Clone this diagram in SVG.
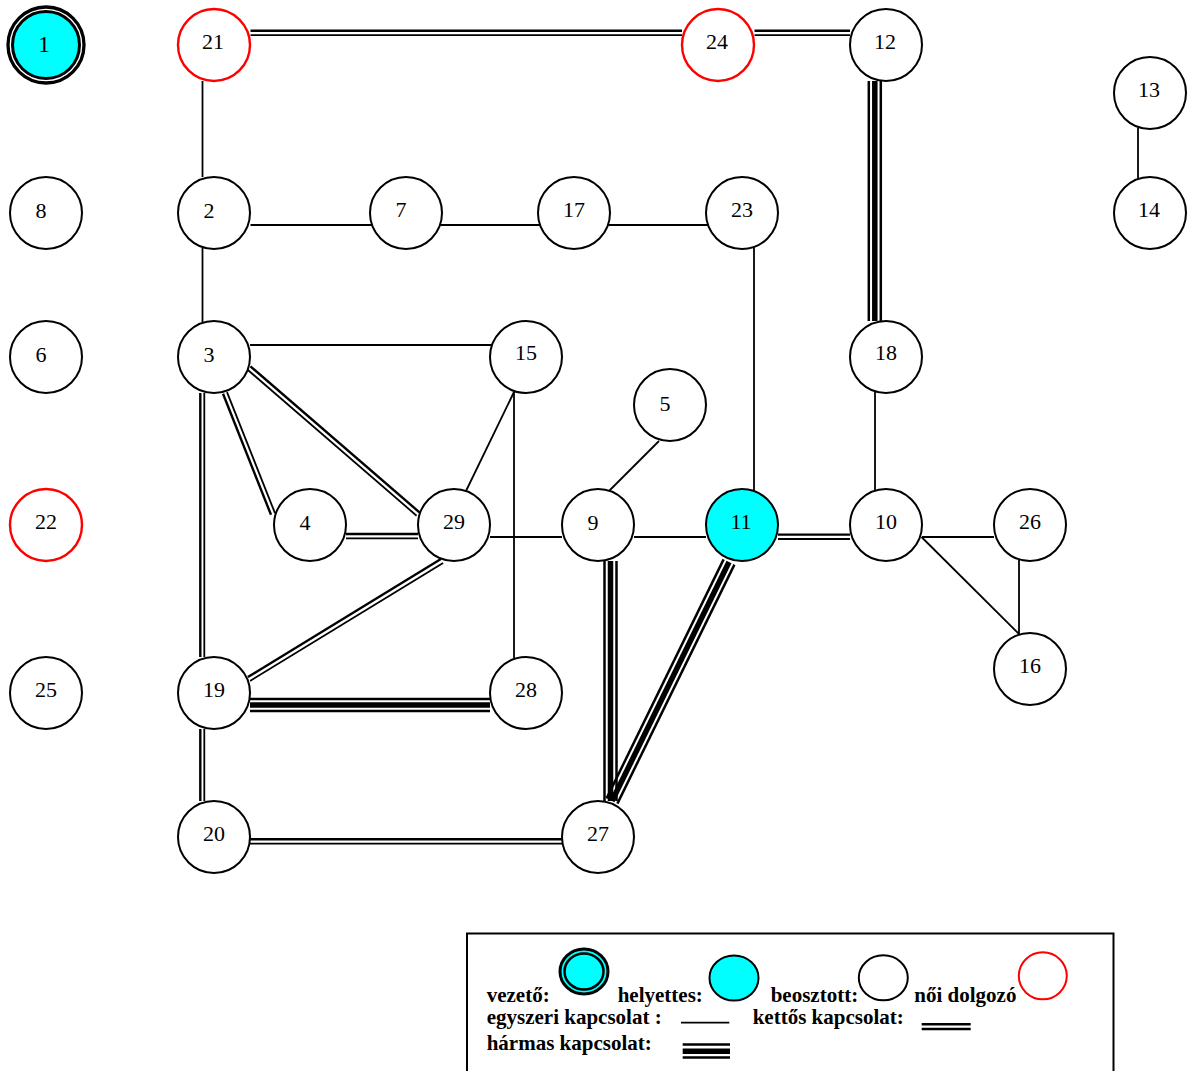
<svg xmlns="http://www.w3.org/2000/svg" width="1188" height="1071" viewBox="0 0 1188 1071">
<style>
.n{fill:#fff;stroke:#000;stroke-width:2}
.f{fill:#fff;stroke:#f00;stroke-width:2.4}
.h{fill:#00ffff;stroke:#000;stroke-width:2}
.t{font-family:"Liberation Serif","Times New Roman",serif;font-size:22px;text-anchor:middle;fill:#000}
.s{stroke:#000;stroke-width:1.8;fill:none}
.d1{stroke:#000;stroke-width:2.4;fill:none}
.d2{stroke:#000;stroke-width:1.8;fill:none}
.to{stroke:#000;stroke-width:2.5;fill:none}
.tm{stroke:#000;stroke-width:5.5;fill:none}
.lg{font-family:"Liberation Serif","Times New Roman",serif;font-size:21px;font-weight:bold;fill:#000}
</style>
<rect width="1188" height="1071" fill="#fff"/>
<g id="connectors">
<line class="s" x1="202.5" y1="81" x2="202.5" y2="177"/>
<line class="s" x1="250.5" y1="225" x2="372" y2="225"/>
<line class="s" x1="440.5" y1="225" x2="540" y2="225"/>
<line class="s" x1="608.5" y1="225" x2="708" y2="225"/>
<line class="s" x1="754" y1="247.5" x2="754" y2="490.5"/>
<line class="s" x1="875" y1="392" x2="875" y2="490"/>
<line class="s" x1="1138" y1="127.5" x2="1138" y2="178.5"/>
<line class="s" x1="202.5" y1="248" x2="202.5" y2="322"/>
<line class="s" x1="250" y1="345" x2="492" y2="345"/>
<line class="s" x1="514" y1="392" x2="466" y2="491"/>
<line class="s" x1="514" y1="392" x2="514" y2="658"/>
<line class="s" x1="659" y1="441" x2="609" y2="491"/>
<line class="s" x1="490" y1="537" x2="562" y2="537"/>
<line class="s" x1="634" y1="537" x2="706" y2="537"/>
<line class="s" x1="922" y1="537" x2="994" y2="537"/>
<line class="s" x1="921.5" y1="537" x2="1019" y2="634"/>
<line class="s" x1="1019" y1="559.8" x2="1019" y2="634"/>
<line class="d1" x1="250.5" y1="30.8" x2="682" y2="30.8"/>
<line class="d2" x1="250.5" y1="35.2" x2="682" y2="35.2"/>
<line class="d1" x1="754.5" y1="30.8" x2="850" y2="30.8"/>
<line class="d2" x1="754.5" y1="35.2" x2="850" y2="35.2"/>
<line class="d1" x1="223" y1="393.8" x2="271" y2="514.8"/>
<line class="d2" x1="227" y1="392.2" x2="275" y2="513.2"/>
<line class="d1" x1="250.4" y1="366.3" x2="419.4" y2="512.3"/>
<line class="d2" x1="247.6" y1="369.7" x2="416.6" y2="515.7"/>
<line class="d1" x1="200.3" y1="393" x2="200.3" y2="657"/>
<line class="d2" x1="204.3" y1="393" x2="204.3" y2="657"/>
<line class="d1" x1="346" y1="534" x2="418" y2="534"/>
<line class="d2" x1="346" y1="538.4" x2="418" y2="538.4"/>
<line class="d1" x1="778" y1="534.6" x2="850" y2="534.6"/>
<line class="d2" x1="778" y1="539" x2="850" y2="539"/>
<line class="d1" x1="440.9" y1="559.1" x2="247.9" y2="677.1"/>
<line class="d2" x1="443.1" y1="562.9" x2="250.1" y2="680.9"/>
<line class="d1" x1="200.3" y1="729" x2="200.3" y2="801"/>
<line class="d2" x1="204.3" y1="729" x2="204.3" y2="801"/>
<line class="d1" x1="250" y1="839.2" x2="562" y2="839.2"/>
<line class="d2" x1="250" y1="843.6" x2="562" y2="843.6"/>
<line class="to" x1="868.8" y1="81" x2="868.8" y2="321"/>
<line class="tm" x1="874.8" y1="81" x2="874.8" y2="321"/>
<line class="to" x1="880.8" y1="81" x2="880.8" y2="321"/>
<line class="to" x1="250" y1="699" x2="490" y2="699"/>
<line class="tm" x1="250" y1="705" x2="490" y2="705"/>
<line class="to" x1="250" y1="711" x2="490" y2="711"/>
<line class="to" x1="604.5" y1="561" x2="604.5" y2="801"/>
<line class="tm" x1="610.5" y1="561" x2="610.5" y2="801"/>
<line class="to" x1="616.5" y1="561" x2="616.5" y2="801"/>
<line class="to" x1="734.4" y1="564.6" x2="617.4" y2="803.6"/>
<line class="tm" x1="729" y1="562" x2="612" y2="801"/>
<line class="to" x1="723.6" y1="559.4" x2="606.6" y2="798.4"/>
</g>
<g id="node1"><circle cx="46" cy="45" r="38" fill="#fff" stroke="#000" stroke-width="3.3"/><circle cx="46" cy="45" r="33.5" fill="#00ffff" stroke="#000" stroke-width="3"/><text class="t" x="44" y="52" style="font-size:24px">1</text></g>
<g id="node21"><circle class="f" cx="214" cy="45" r="36"/><text class="t" x="213" y="48.5">21</text></g>
<g id="node24"><circle class="f" cx="718" cy="45" r="36"/><text class="t" x="717" y="48.5">24</text></g>
<g id="node12"><circle class="n" cx="886" cy="45" r="36"/><text class="t" x="885" y="48.5">12</text></g>
<g id="node13"><circle class="n" cx="1150" cy="93" r="36"/><text class="t" x="1149" y="96.5">13</text></g>
<g id="node14"><circle class="n" cx="1150" cy="213" r="36"/><text class="t" x="1149" y="216.5">14</text></g>
<g id="node8"><circle class="n" cx="46" cy="213" r="36"/><text class="t" x="41" y="218">8</text></g>
<g id="node2"><circle class="n" cx="214" cy="213" r="36"/><text class="t" x="209" y="218">2</text></g>
<g id="node7"><circle class="n" cx="406" cy="213" r="36"/><text class="t" x="401" y="216.5">7</text></g>
<g id="node17"><circle class="n" cx="574" cy="213" r="36"/><text class="t" x="574" y="216.5">17</text></g>
<g id="node23"><circle class="n" cx="742" cy="213" r="36"/><text class="t" x="742" y="216.5">23</text></g>
<g id="node6"><circle class="n" cx="46" cy="357" r="36"/><text class="t" x="41" y="362">6</text></g>
<g id="node3"><circle class="n" cx="214" cy="357" r="36"/><text class="t" x="209" y="362">3</text></g>
<g id="node15"><circle class="n" cx="526" cy="357" r="36"/><text class="t" x="526" y="360">15</text></g>
<g id="node5"><circle class="n" cx="670" cy="405" r="36"/><text class="t" x="665" y="411">5</text></g>
<g id="node18"><circle class="n" cx="886" cy="357" r="36"/><text class="t" x="886" y="360">18</text></g>
<g id="node22"><circle class="f" cx="46" cy="525" r="36"/><text class="t" x="46" y="528.5">22</text></g>
<g id="node4"><circle class="n" cx="310" cy="525" r="36"/><text class="t" x="305" y="530">4</text></g>
<g id="node29"><circle class="n" cx="454" cy="525" r="36"/><text class="t" x="454" y="528.5">29</text></g>
<g id="node9"><circle class="n" cx="598" cy="525" r="36"/><text class="t" x="593" y="530">9</text></g>
<g id="node11"><circle class="h" cx="742" cy="525" r="36"/><text class="t" x="741" y="528.5">11</text></g>
<g id="node10"><circle class="n" cx="886" cy="525" r="36"/><text class="t" x="886" y="528.5">10</text></g>
<g id="node26"><circle class="n" cx="1030" cy="525" r="36"/><text class="t" x="1030" y="528.5">26</text></g>
<g id="node16"><circle class="n" cx="1030" cy="669" r="36"/><text class="t" x="1030" y="672.5">16</text></g>
<g id="node25"><circle class="n" cx="46" cy="693" r="36"/><text class="t" x="46" y="696.5">25</text></g>
<g id="node19"><circle class="n" cx="214" cy="693" r="36"/><text class="t" x="214" y="696.5">19</text></g>
<g id="node28"><circle class="n" cx="526" cy="693" r="36"/><text class="t" x="526" y="696.5">28</text></g>
<g id="node20"><circle class="n" cx="214" cy="837" r="36"/><text class="t" x="214" y="840.5">20</text></g>
<g id="node27"><circle class="n" cx="598" cy="837" r="36"/><text class="t" x="598" y="840.5">27</text></g>
<g id="legend">
<rect x="467" y="933.5" width="646.5" height="160" fill="#fff" stroke="#000" stroke-width="2"/>
<text class="lg" x="486.7" y="1001.5">vezető:</text>
<ellipse cx="584" cy="971.5" rx="24" ry="22.5" fill="#00ffff" stroke="#000" stroke-width="3"/>
<ellipse cx="584" cy="971.5" rx="19.5" ry="18" fill="none" stroke="#000" stroke-width="2.5"/>
<text class="lg" x="617.7" y="1001.5">helyettes:</text>
<ellipse cx="734" cy="978" rx="24.5" ry="22.5" fill="#00ffff" stroke="#000" stroke-width="2"/>
<text class="lg" x="770.7" y="1001.5">beosztott:</text>
<ellipse cx="883.3" cy="977.8" rx="24.5" ry="22.5" fill="#fff" stroke="#000" stroke-width="2"/>
<text class="lg" x="914.3" y="1001.5">női dolgozó</text>
<ellipse cx="1042.8" cy="975.8" rx="24" ry="23.5" fill="#fff" stroke="#f00" stroke-width="2"/>
<text class="lg" x="486.7" y="1024">egyszeri kapcsolat :</text>
<line class="s" x1="681" y1="1022.7" x2="729.3" y2="1022.7"/>
<text class="lg" x="752.7" y="1024">kettős kapcsolat:</text>
<line class="d1" x1="921.7" y1="1024.3" x2="970.7" y2="1024.3"/>
<line class="d1" x1="921.7" y1="1029" x2="970.7" y2="1029"/>
<text class="lg" x="486.7" y="1050">hármas kapcsolat:</text>
<line class="to" x1="682.7" y1="1044.5" x2="730" y2="1044.5"/>
<line class="tm" x1="682.7" y1="1051.2" x2="730" y2="1051.2"/>
<line class="to" x1="682.7" y1="1057.5" x2="730" y2="1057.5"/>
</g>
</svg>
